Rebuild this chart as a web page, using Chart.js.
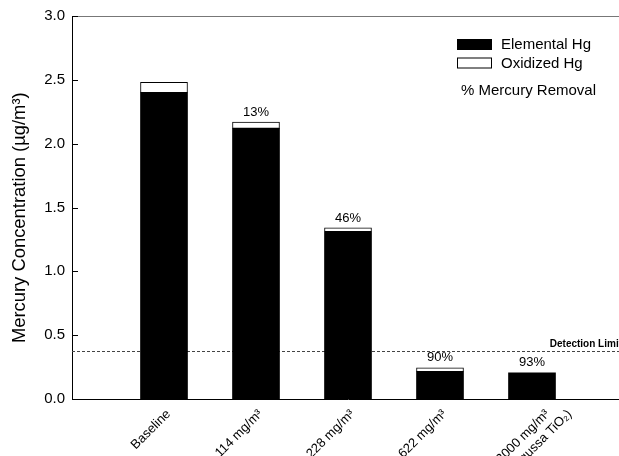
<!DOCTYPE html>
<html>
<head>
<meta charset="utf-8">
<script src="https://cdn.jsdelivr.net/npm/chart.js@4.4.1/dist/chart.umd.min.js"></script>
<style>
  html, body { margin: 0; padding: 0; overflow: hidden; background: #fff; }
  canvas { display: block; }
</style>
</head>
<body>
<canvas id="chart" width="624" height="456"></canvas>
<script>
// Sorbent injection rates and the mercury measured at each one
const categories = ['Baseline', '114 mg/m³', '228 mg/m³', '622 mg/m³', ['3000 mg/m³', '(Degussa TiO₂)']];
const categoryPositions = [1, 2, 3, 4, 5];
const elementalHg = [2.40, 2.12, 1.31, 0.215, 0.205];
const oxidizedHg = [0.08, 0.05, 0.03, 0.03, 0];
const removalPercent = [null, 13, 46, 90, 93];
const detectionLimit = 0.375;
const yTickValues = [0, 0.5, 1.0, 1.5, 2.0, 2.5, 3.0];

const FONT = "'Liberation Sans', Arial, Helvetica, sans-serif";

// One tick per label line; the second line of a two-line label is stepped
// to the right so the pair reads as a centred block under its bar.
const tickLabels = [];
const tickPositions = [];
categories.forEach((c, i) => {
  const lines = Array.isArray(c) ? c : [c];
  const shift = lines.length > 1 ? 0.12 : 0;
  lines.forEach((line, k) => {
    tickLabels.push(line);
    tickPositions.push(categoryPositions[i] + 0.05 + shift + k * 0.24);
  });
});

const decorations = {
  id: 'decorations',
  beforeDatasetsDraw(chart) {
    const { ctx, chartArea: a, scales: { y } } = chart;
    const yl = Math.round(y.getPixelForValue(detectionLimit)) + 0.5;
    ctx.save();
    ctx.strokeStyle = '#444';
    ctx.lineWidth = 1;
    ctx.setLineDash([3, 2]);
    ctx.beginPath();
    ctx.moveTo(a.left, yl);
    ctx.lineTo(a.right, yl);
    ctx.stroke();
    ctx.restore();
  },
  afterDatasetsDraw(chart) {
    const { ctx, chartArea: a, scales: { x, y } } = chart;
    ctx.save();

    // frame line along the top of the plot
    ctx.strokeStyle = '#777';
    ctx.lineWidth = 1;
    ctx.beginPath();
    ctx.moveTo(a.left, Math.round(a.top) + 0.5);
    ctx.lineTo(a.right, Math.round(a.top) + 0.5);
    ctx.stroke();

    // inward tick marks on the y axis
    ctx.strokeStyle = '#000';
    ctx.beginPath();
    yTickValues.forEach(v => {
      const py = Math.round(y.getPixelForValue(v)) + 0.5;
      ctx.moveTo(a.left, py);
      ctx.lineTo(a.left + 6, py);
    });
    ctx.stroke();

    // detection limit caption
    const yl = y.getPixelForValue(detectionLimit);
    ctx.fillStyle = '#000';
    ctx.font = `bold 10px ${FONT}`;
    ctx.textAlign = 'right';
    ctx.textBaseline = 'alphabetic';
    ctx.fillText('Detection Limit', a.right - 2, yl - 4);

    // percent removal above each treated bar
    ctx.font = `13px ${FONT}`;
    ctx.textAlign = 'center';
    ctx.textBaseline = 'middle';
    removalPercent.forEach((p, i) => {
      if (p === null) return;
      const px = x.getPixelForValue(categoryPositions[i]);
      const py = y.getPixelForValue(elementalHg[i] + oxidizedHg[i]);
      ctx.fillText(p + '%', px, py - 10);
    });

    // legend
    const lx = 457, ly = 39, bw = 35, bh = 11, gap = 18.5;
    chart.data.datasets.forEach((ds, i) => {
      const by = ly + i * gap;
      ctx.fillStyle = ds.backgroundColor;
      ctx.fillRect(lx, by, bw, bh);
      if (ds.borderWidth) {
        ctx.strokeStyle = '#000';
        ctx.lineWidth = 1;
        ctx.strokeRect(lx + 0.5, by + 0.5, bw - 1, bh - 1);
      }
      ctx.fillStyle = '#000';
      ctx.font = `15px ${FONT}`;
      ctx.textAlign = 'left';
      ctx.textBaseline = 'middle';
      ctx.fillText(ds.label, lx + bw + 9, by + bh / 2 + 0.5);
    });
    ctx.fillText('% Mercury Removal', 461, 91);
    ctx.restore();
  }
};

const ctx = document.getElementById('chart').getContext('2d');
new Chart(ctx, {
  type: 'bar',
  data: {
    datasets: [
      {
        label: 'Elemental Hg',
        data: categoryPositions.map((pos, i) => ({ x: pos, y: elementalHg[i] })),
        backgroundColor: '#000',
        borderWidth: 0
      },
      {
        label: 'Oxidized Hg',
        data: categoryPositions.map((pos, i) => ({ x: pos, y: oxidizedHg[i] })),
        backgroundColor: '#fff',
        borderColor: '#000',
        borderWidth: 1,
        borderSkipped: false
      }
    ]
  },
  options: {
    responsive: false,
    animation: false,
    layout: { padding: { top: 16, left: 0, right: 0, bottom: 0 } },
    datasets: { bar: { barThickness: 47 } },
    plugins: { legend: { display: false }, tooltip: { enabled: false } },
    scales: {
      x: {
        type: 'linear',
        min: 0,
        max: 6,
        offset: false,
        stacked: true,
        grid: { display: false, drawTicks: false },
        border: { display: true, color: '#000', width: 1 },
        afterBuildTicks: (scale) => {
          scale.ticks = tickPositions.map(v => ({ value: v }));
        },
        afterFit: (scale) => { scale.height = 57; },
        ticks: {
          autoSkip: false,
          minRotation: 45,
          maxRotation: 45,
          padding: 8,
          color: '#000',
          font: { family: FONT, size: 13, lineHeight: 1.1 },
          callback: (value, index) => tickLabels[index]
        }
      },
      y: {
        min: 0,
        max: 3,
        stacked: true,
        grid: { display: false, drawTicks: false },
        border: { display: true, color: '#000', width: 1 },
        afterFit: (scale) => { scale.width = 72; },
        afterBuildTicks: (scale) => { scale.ticks = yTickValues.map(v => ({ value: v })); },
        ticks: {
          padding: 7,
          color: '#000',
          font: { family: FONT, size: 15 },
          callback: (value) => Number(value).toFixed(1)
        },
        title: {
          display: true,
          text: 'Mercury Concentration (µg/m³)    ',
          color: '#000',
          font: { family: FONT, size: 18.4 },
          padding: { top: 9, bottom: 0 }
        }
      }
    }
  },
  plugins: [decorations]
});
</script>
</body>
</html>
